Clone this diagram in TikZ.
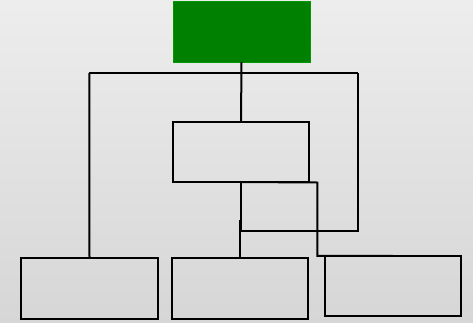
\documentclass[tikz,border=0pt]{standalone}
\begin{document}
\begin{tikzpicture}[x=1pt,y=1pt,
  box/.style={draw=black,line width=2pt,inner sep=0pt,outer sep=0pt,minimum width=136pt,minimum height=60pt},
  topbox/.style={fill=green!50!black,draw=green!60!black,line width=0.5pt,inner sep=0pt,outer sep=0pt,minimum width=137pt,minimum height=61pt},
  conn/.style={draw=black,line width=2pt}]
\shade[top color=black!7,bottom color=black!16] (0,0) rectangle (473,-322);
\useasboundingbox (0,0) rectangle (473,-322);
\node[topbox] (g) at (241.5,-31.5) {};
\node[box] (m) at (241,-152) {};
\node[box,minimum width=137pt,minimum height=61pt] (b1) at (89.5,-288.5) {};
\node[box,minimum height=61pt] (b2) at (240.3,-288.5) {};
\node[box] (b3) at (393.2,-285.8) {};
\coordinate (busL) at (89.3,-73);
\coordinate (busR) at (358.3,-73);
\coordinate (rc) at (358.3,-231);
\coordinate (e1) at (317.3,-182.5);
\draw[conn] (busL) -- (busR);
\draw[conn] (g.south) -- (m.north);
\draw[conn] (b1.north) -- (busL);
\draw[conn] (busR) -- (rc) -- (m.south |- rc) -- (m.south);
\draw[conn] (m.south) -- (e1) |- (b3.north);
\draw[conn] (b2.north) -- ++(0,38);
\end{tikzpicture}
\end{document}
